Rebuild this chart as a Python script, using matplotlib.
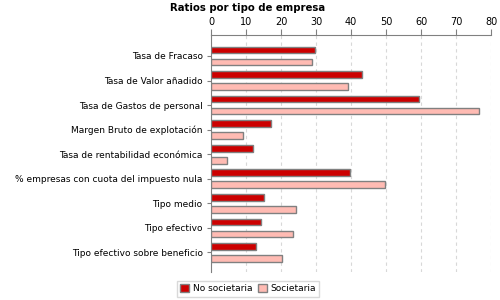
import matplotlib.pyplot as plt
import numpy as np

categories = [
    "Tasa de Fracaso",
    "Tasa de Valor añadido",
    "Tasa de Gastos de personal",
    "Margen Bruto de explotación",
    "Tasa de rentabilidad económica",
    "% empresas con cuota del impuesto nula",
    "Tipo medio",
    "Tipo efectivo",
    "Tipo efectivo sobre beneficio",
]
no_societaria = [29.8, 43.2, 59.5, 17.1, 11.9, 39.8, 15.1, 14.2, 12.8]
societaria = [28.9, 39.1, 76.5, 9.2, 4.5, 49.8, 24.3, 23.4, 20.2]
ticks = [0, 10, 20, 30, 40, 50, 60, 70, 80]

fig = plt.figure(figsize=(5, 3), dpi=100)
ax = fig.add_axes([0.422, 0.093, 0.56, 0.79])

y = np.arange(len(categories))
h = 0.27
ax.barh(y - 0.245, no_societaria, height=h, color="#cc0000",
        edgecolor="#808080", linewidth=1, label="No societaria", zorder=3)
ax.barh(y + 0.245, societaria, height=h, color="#ffbbb3",
        edgecolor="#808080", linewidth=1, label="Societaria", zorder=3)

ax.set_xlim(0, 80)
ax.set_ylim(8.8, -0.85)
ax.set_xticks(ticks)
ax.xaxis.tick_top()
ax.tick_params(axis="x", length=4, color="#808080", labelsize=7, pad=2)
ax.set_yticks(y)
ax.set_yticklabels(categories, fontsize=6.5)
ax.tick_params(axis="y", length=3, color="#808080", pad=3)
ax.grid(axis="x", color="#d8d8d8", linestyle=(0, (3, 3)), linewidth=0.8, zorder=0)

for s in ["right", "bottom"]:
    ax.spines[s].set_visible(False)
for s in ["top", "left"]:
    ax.spines[s].set_color("#808080")

fig.text(0.496, 0.972, "Ratios por tipo de empresa", ha="center", va="center",
         fontsize=7.3, fontweight="bold")

fig.legend(loc="center", bbox_to_anchor=(0.496, 0.037), ncol=2, fontsize=6.5,
           frameon=True, fancybox=False, edgecolor="#d0d0d0",
           handlelength=1.0, handleheight=1.0, handletextpad=0.4,
           columnspacing=0.6, borderpad=0.35)

fig.savefig("out.png", dpi=100)
